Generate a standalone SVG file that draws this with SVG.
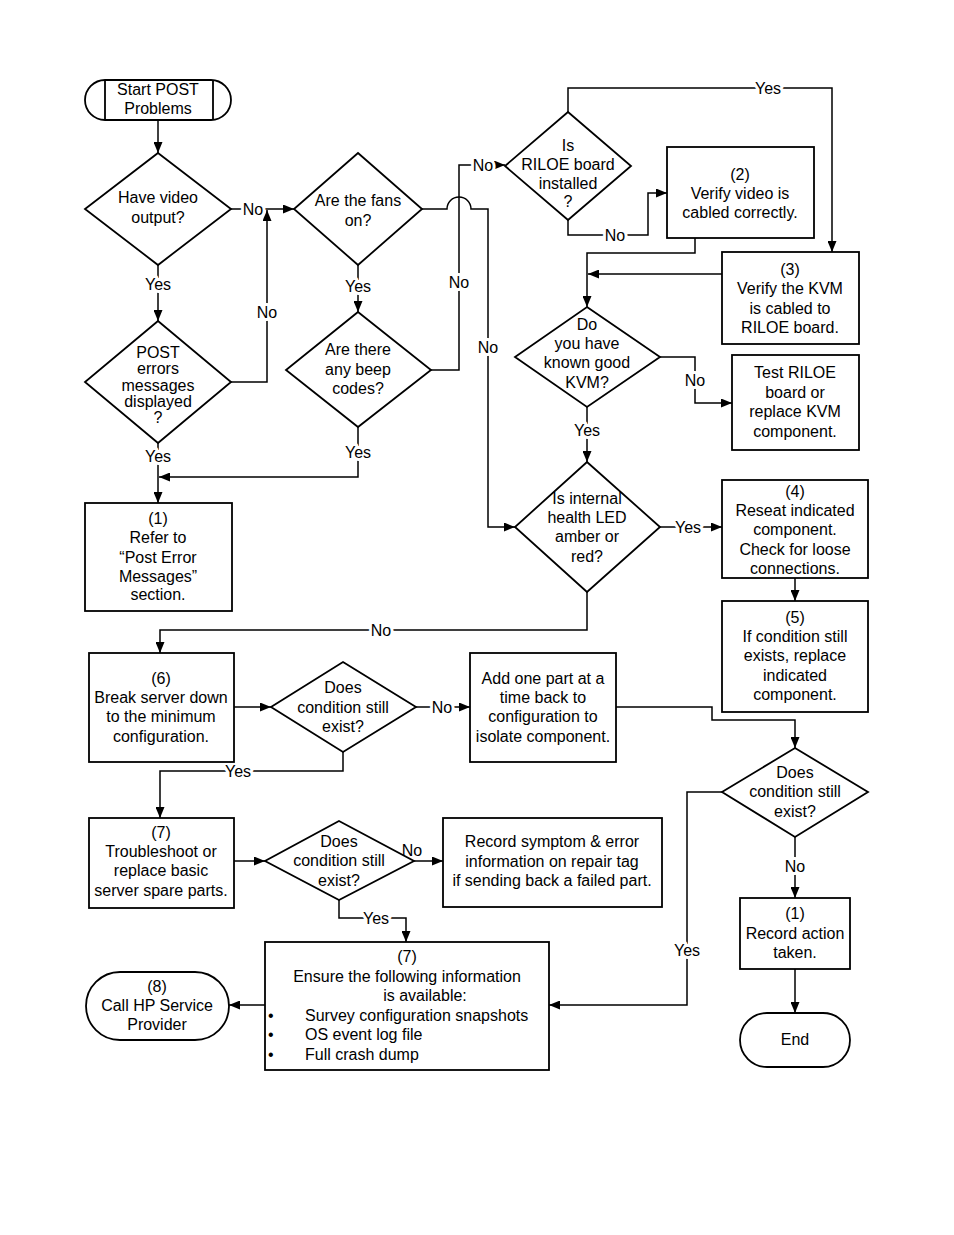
<svg xmlns="http://www.w3.org/2000/svg" width="954" height="1235" viewBox="0 0 954 1235">
<style>
.n{fill:#fff;stroke:#000;stroke-width:1.8}
.c{fill:none;stroke:#000;stroke-width:1.5}
text{font-family:"Liberation Sans",Arial,sans-serif;font-size:16px;fill:#000;text-anchor:middle}
.l{paint-order:stroke;stroke:#fff;stroke-width:6px;stroke-linejoin:round}
.s{text-anchor:start}
</style>
<defs>
<marker id="a" markerUnits="userSpaceOnUse" markerWidth="11" markerHeight="9" refX="11" refY="4.5" orient="auto"><path d="M0,0 L11,4.5 L0,9 z" fill="#000"/></marker>
</defs>
<rect width="954" height="1235" fill="#fff"/>
<g id="connectors">
<path class="c" d="M158,120 V153" marker-end="url(#a)"/>
<path class="c" d="M231,209 H294" marker-end="url(#a)"/>
<path class="c" d="M231,382 H267 V210" marker-end="url(#a)"/>
<path class="c" d="M158,265 V321" marker-end="url(#a)"/>
<path class="c" d="M358,265 V312" marker-end="url(#a)"/>
<path class="c" d="M422,209 H447 A12,12 0 0 1 471,209 H488 V527 H515" marker-end="url(#a)"/>
<path class="c" d="M431,370 H459 V165 H505" marker-end="url(#a)"/>
<path class="c" d="M158,443 V503" marker-end="url(#a)"/>
<path class="c" d="M358,427 V477 H159" marker-end="url(#a)"/>
<path class="c" d="M568,112 V88 H832 V252" marker-end="url(#a)"/>
<path class="c" d="M568,220 V235 H648 V193 H667" marker-end="url(#a)"/>
<path class="c" d="M695,238 V253 H587 V307" marker-end="url(#a)"/>
<path class="c" d="M722,274 H588" marker-end="url(#a)"/>
<path class="c" d="M660,357 H695 V403 H732" marker-end="url(#a)"/>
<path class="c" d="M587,407 V462" marker-end="url(#a)"/>
<path class="c" d="M660,527 H722" marker-end="url(#a)"/>
<path class="c" d="M795,578 V601" marker-end="url(#a)"/>
<path class="c" d="M587,592 V630 H160 V653" marker-end="url(#a)"/>
<path class="c" d="M234,707 H271" marker-end="url(#a)"/>
<path class="c" d="M416,707 H470" marker-end="url(#a)"/>
<path class="c" d="M616,707 H712 V720 H795 V748" marker-end="url(#a)"/>
<path class="c" d="M343,752 V771 H160 V818" marker-end="url(#a)"/>
<path class="c" d="M795,837 V898" marker-end="url(#a)"/>
<path class="c" d="M795,969 V1013" marker-end="url(#a)"/>
<path class="c" d="M722,792 H687 V1005 H549" marker-end="url(#a)"/>
<path class="c" d="M234,861 H265" marker-end="url(#a)"/>
<path class="c" d="M414,861 H443" marker-end="url(#a)"/>
<path class="c" d="M339,900 V918 H406 V942" marker-end="url(#a)"/>
<path class="c" d="M265,1005 H229" marker-end="url(#a)"/>
<text class="l" x="253" y="215">No</text>
<text class="l" x="267" y="318">No</text>
<text class="l" x="158" y="290">Yes</text>
<text class="l" x="358" y="292">Yes</text>
<text class="l" x="488" y="353">No</text>
<text class="l" x="459" y="288">No</text>
<text class="l" x="483" y="171">No</text>
<text class="l" x="158" y="462">Yes</text>
<text class="l" x="358" y="458">Yes</text>
<text class="l" x="768" y="94">Yes</text>
<text class="l" x="615" y="241">No</text>
<text class="l" x="695" y="386">No</text>
<text class="l" x="587" y="436">Yes</text>
<text class="l" x="688" y="533">Yes</text>
<text class="l" x="381" y="636">No</text>
<text class="l" x="442" y="713">No</text>
<text class="l" x="238" y="777">Yes</text>
<text class="l" x="795" y="872">No</text>
<text class="l" x="687" y="956">Yes</text>
<text class="l" x="412" y="856">No</text>
<text class="l" x="376" y="924">Yes</text>
</g>
<g id="start">
<rect class="n" x="85" y="80" width="146" height="40" rx="20"/>
<path class="c" d="M105,80 V120 M213,80 V120" style="stroke-width:1.8"/>
<text x="158" y="95">Start POST</text>
<text x="158" y="114">Problems</text>
</g>
<g id="video">
<polygon class="n" points="158,153 231,209 158,265 85,209"/>
<text x="158" y="203">Have video</text>
<text x="158" y="223">output?</text>
</g>
<g id="fans">
<polygon class="n" points="358,153 422,209 358,265 294,209"/>
<text x="358" y="206">Are the fans</text>
<text x="358" y="226">on?</text>
</g>
<g id="posterr">
<polygon class="n" points="158,321 231,382 158,443 85,382"/>
<text x="158" y="358">POST</text>
<text x="158" y="374">errors</text>
<text x="158" y="391">messages</text>
<text x="158" y="407">displayed</text>
<text x="158" y="423">?</text>
</g>
<g id="beep">
<polygon class="n" points="358,312 431,370 358,427 286,370"/>
<text x="358" y="355">Are there</text>
<text x="358" y="375">any beep</text>
<text x="358" y="394">codes?</text>
</g>
<g id="refer">
<rect class="n" x="85" y="503" width="147" height="108"/>
<text x="158" y="524">(1)</text>
<text x="158" y="543">Refer to</text>
<text x="158" y="563">“Post Error</text>
<text x="158" y="582">Messages”</text>
<text x="158" y="600">section.</text>
</g>
<g id="riloe">
<polygon class="n" points="568,112 631,166 568,220 505,166"/>
<text x="568" y="151">Is</text>
<text x="568" y="170">RILOE board</text>
<text x="568" y="189">installed</text>
<text x="568" y="207">?</text>
</g>
<g id="verifyvideo">
<rect class="n" x="667" y="147" width="147" height="91"/>
<text x="740" y="180">(2)</text>
<text x="740" y="199">Verify video is</text>
<text x="740" y="218">cabled correctly.</text>
</g>
<g id="verifykvm">
<rect class="n" x="722" y="252" width="137" height="92"/>
<text x="790" y="275">(3)</text>
<text x="790" y="294">Verify the KVM</text>
<text x="790" y="314">is cabled to</text>
<text x="790" y="333">RILOE board.</text>
</g>
<g id="kvm">
<polygon class="n" points="587,307 660,357 587,407 515,357"/>
<text x="587" y="330">Do</text>
<text x="587" y="349">you have</text>
<text x="587" y="368">known good</text>
<text x="587" y="388">KVM?</text>
</g>
<g id="test">
<rect class="n" x="732" y="355" width="127" height="95"/>
<text x="795" y="378">Test RILOE</text>
<text x="795" y="398">board or</text>
<text x="795" y="417">replace KVM</text>
<text x="795" y="437">component.</text>
</g>
<g id="led">
<polygon class="n" points="587,462 660,527 587,592 515,527"/>
<text x="587" y="504">Is internal</text>
<text x="587" y="523">health LED</text>
<text x="587" y="542">amber or</text>
<text x="587" y="562">red?</text>
</g>
<g id="reseat">
<rect class="n" x="722" y="480" width="146" height="98"/>
<text x="795" y="497">(4)</text>
<text x="795" y="516">Reseat indicated</text>
<text x="795" y="535">component.</text>
<text x="795" y="555">Check for loose</text>
<text x="795" y="574">connections.</text>
</g>
<g id="replace">
<rect class="n" x="722" y="601" width="146" height="111"/>
<text x="795" y="623">(5)</text>
<text x="795" y="642">If condition still</text>
<text x="795" y="661">exists, replace</text>
<text x="795" y="681">indicated</text>
<text x="795" y="700">component.</text>
</g>
<g id="breakdown">
<rect class="n" x="89" y="653" width="145" height="109"/>
<text x="161" y="684">(6)</text>
<text x="161" y="703">Break server down</text>
<text x="161" y="722">to the minimum</text>
<text x="161" y="742">configuration.</text>
</g>
<g id="cond1">
<polygon class="n" points="343,662 416,707 343,752 271,707"/>
<text x="343" y="693">Does</text>
<text x="343" y="713">condition still</text>
<text x="343" y="732">exist?</text>
</g>
<g id="addpart">
<rect class="n" x="470" y="653" width="146" height="109"/>
<text x="543" y="684">Add one part at a</text>
<text x="543" y="703">time back to</text>
<text x="543" y="722">configuration to</text>
<text x="543" y="742">isolate component.</text>
</g>
<g id="cond2">
<polygon class="n" points="795,748 868,792 795,837 722,792"/>
<text x="795" y="778">Does</text>
<text x="795" y="797">condition still</text>
<text x="795" y="817">exist?</text>
</g>
<g id="record">
<rect class="n" x="740" y="898" width="110" height="71"/>
<text x="795" y="919">(1)</text>
<text x="795" y="939">Record action</text>
<text x="795" y="958">taken.</text>
</g>
<g id="end">
<rect class="n" x="740" y="1013" width="110" height="54" rx="27"/>
<text x="795" y="1045">End</text>
</g>
<g id="troubleshoot">
<rect class="n" x="89" y="818" width="145" height="90"/>
<text x="161" y="838">(7)</text>
<text x="161" y="857">Troubleshoot or</text>
<text x="161" y="876">replace basic</text>
<text x="161" y="896">server spare parts.</text>
</g>
<g id="cond3">
<polygon class="n" points="339,821 414,861 339,900 265,861"/>
<text x="339" y="847">Does</text>
<text x="339" y="866">condition still</text>
<text x="339" y="886">exist?</text>
</g>
<g id="symptom">
<rect class="n" x="443" y="818" width="219" height="89"/>
<text x="552" y="847">Record symptom &amp; error</text>
<text x="552" y="867">information on repair tag</text>
<text x="552" y="886">if sending back a failed part.</text>
</g>
<g id="ensure">
<rect class="n" x="265" y="942" width="284" height="128"/>
<text x="407" y="962">(7)</text>
<text x="407" y="982">Ensure the following information</text>
<text x="425" y="1001">is available:</text>
<text class="s" x="268" y="1021">•</text>
<text class="s" x="305" y="1021">Survey configuration snapshots</text>
<text class="s" x="268" y="1040">•</text>
<text class="s" x="305" y="1040">OS event log file</text>
<text class="s" x="268" y="1060">•</text>
<text class="s" x="305" y="1060">Full crash dump</text>
</g>
<g id="callhp">
<rect class="n" x="86" y="972" width="143" height="68" rx="34"/>
<text x="157" y="992">(8)</text>
<text x="157" y="1011">Call HP Service</text>
<text x="157" y="1030">Provider</text>
</g>
</svg>
